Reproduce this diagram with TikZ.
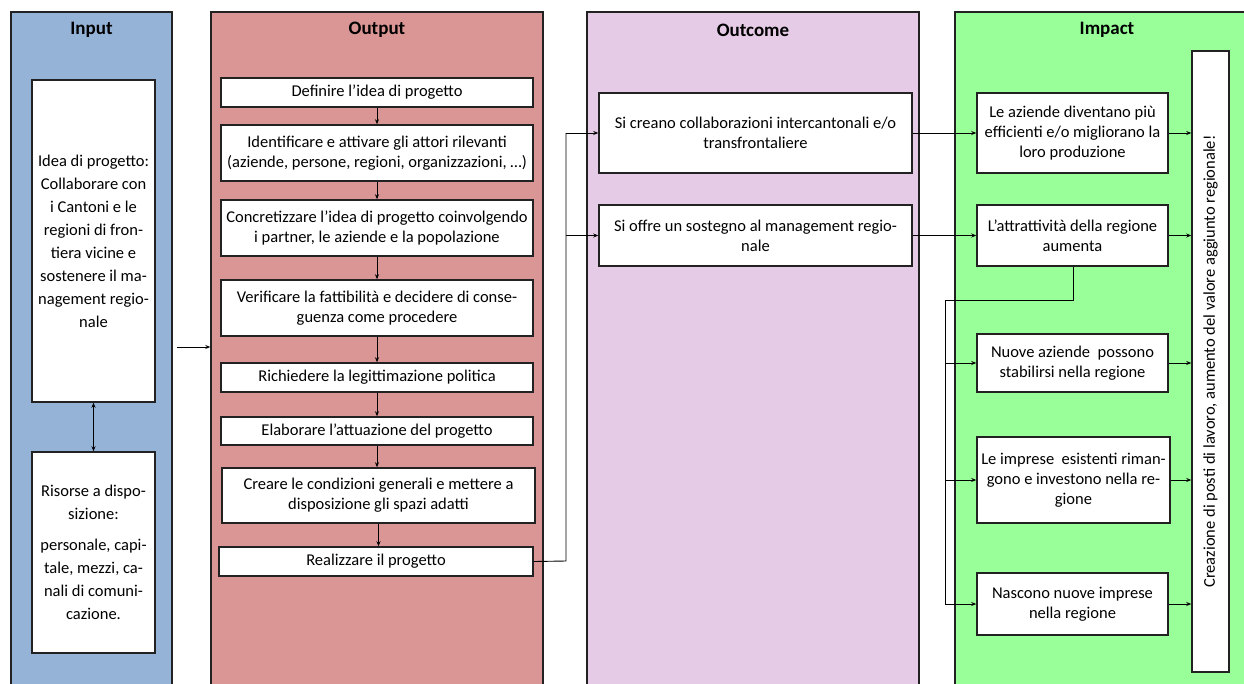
\documentclass[tikz,border=0pt]{standalone}
\usepackage{fontspec}
\setmainfont{Carlito}
\usetikzlibrary{arrows.meta}

\definecolor{inblue}{HTML}{95B3D7}
\definecolor{outred}{HTML}{D99694}
\definecolor{outlav}{HTML}{E6CBE6}
\definecolor{impgreen}{HTML}{99FF99}
\definecolor{edge}{HTML}{222222}

\tikzset{
  column/.style={draw=edge, line width=1.4pt, inner sep=0pt},
  coltitle/.style={font=\fontsize{19}{22}\selectfont\bfseries},
  box/.style={draw=edge, fill=white, line width=1.5pt, inner sep=0pt,
    align=center, font=\fontsize{16.5}{20}\selectfont},
  inbox/.style={box, font=\fontsize{16.5}{23}\selectfont},
  arr/.style={line width=0.9pt, -{Stealth[length=5pt,width=4pt]}},
  dblarr/.style={line width=0.9pt, {Stealth[length=5pt,width=4pt]}-{Stealth[length=5pt,width=4pt]}},
  wire/.style={line width=0.9pt}
}

\begin{document}
\begin{tikzpicture}[x=1pt, y=-1pt]
\useasboundingbox (0,0) rectangle (1244,683);

% ---- columns ----
\node[column, fill=inblue,  minimum width=161pt, minimum height=700pt] (incol)  at (91.5,362) {};
\node[column, fill=outred,  minimum width=332pt, minimum height=700pt] (outcol) at (377,362) {};
\node[column, fill=outlav,  minimum width=332pt, minimum height=700pt] (occol)  at (753,362) {};
\node[column, fill=impgreen,minimum width=305pt, minimum height=700pt] (impcol) at (1107.5,362) {};

\node[coltitle] (tin)  at (91.5,30)  {Input};
\node[coltitle] (tout) at (377,30)   {Output};
\node[coltitle] (toc)  at (753,30)   {Outcome};
\node[coltitle] (timp) at (1107,30)  {Impact};

% ---- Input ----
\node[inbox, minimum width=123pt, minimum height=322pt] (idea) at (93.5,241)
  {Idea di progetto:\\Collaborare con\\i Cantoni e le\\regioni di fron-\\tiera vicine e\\sostenere il ma-\\nagement regio-\\nale};
\node[inbox, minimum width=123pt, minimum height=201pt] (ris) at (93.5,552.5)
  {Risorse a dispo-\\sizione:\\[8pt]personale, capi-\\tale, mezzi, ca-\\nali di comuni-\\cazione.};
\draw[dblarr] (idea.south) -- (ris.north);

\coordinate (instart) at (177,347);
\draw[arr] (instart) -- (instart -| outcol.west);

% ---- Output ----
\node[box, minimum width=312pt, minimum height=29pt] (o1) at (377,92.5)
  {Definire l’idea di progetto};
\node[box, minimum width=312pt, minimum height=56pt] (o2) at (377,153)
  {Identificare e attivare gli attori rilevanti\\(aziende, persone, regioni, organizzazioni, …)};
\node[box, minimum width=312pt, minimum height=56pt] (o3) at (377,228)
  {Concretizzare l’idea di progetto coinvolgendo\\i partner, le aziende e la popolazione};
\node[box, minimum width=312pt, minimum height=56pt] (o4) at (377,308)
  {Verificare la fattibilità e decidere di conse-\\guenza come procedere};
\node[box, minimum width=312pt, minimum height=29pt] (o5) at (377,377.5)
  {Richiedere la legittimazione politica};
\node[box, minimum width=312pt, minimum height=28pt] (o6) at (377,431)
  {Elaborare l’attuazione del progetto};
\node[box, minimum width=313pt, minimum height=55pt] (o7) at (378.5,495.5)
  {Creare le condizioni generali e mettere a\\disposizione gli spazi adatti};
\node[box, minimum width=314pt, minimum height=29pt] (o8) at (376,561.5)
  {Realizzare il progetto};

\foreach \a/\b in {o1/o2,o2/o3,o3/o4,o4/o5,o5/o6,o6/o7,o7/o8}
  \draw[arr] (\a.south) -- (\a.south |- \b.north);

% ---- Outcome ----
\node[box, minimum width=313pt, minimum height=80pt] (c1) at (755.5,133)
  {Si creano collaborazioni intercantonali e/o\\transfrontaliere};
\node[box, minimum width=313pt, minimum height=61pt] (c2) at (755.5,235.5)
  {Si offre un sostegno al management regio-\\nale};

\coordinate (split) at (566,561);
\draw[wire] (o8.east) -- (split) -- (split |- c1.west);
\draw[arr] (split |- c1.west) -- (c1.west);
\draw[arr] (split |- c2.west) -- (c2.west);

% ---- Impact ----
\node[box, minimum width=37pt, minimum height=621pt] (vb) at (1210.5,361.5)
  {\rotatebox{90}{Creazione di posti di lavoro, aumento del valore aggiunto regionale!}};

\node[box, minimum width=191pt, minimum height=80pt] (i1) at (1072.5,133)
  {Le aziende diventano più\\efficienti e/o migliorano la\\loro produzione};
\node[box, minimum width=191pt, minimum height=61pt] (i2) at (1072.5,235.5)
  {L’attrattività della regione\\aumenta};
\node[box, minimum width=191pt, minimum height=58pt] (i3) at (1072.5,363)
  {Nuove aziende\ \ possono\\stabilirsi nella regione};
\node[box, minimum width=193pt, minimum height=86pt] (i4) at (1073.5,480)
  {Le imprese\ \ esistenti riman-\\gono e investono nella re-\\gione};
\node[box, minimum width=191pt, minimum height=62pt] (i5) at (1072.5,604)
  {Nascono nuove imprese\\nella regione};

\draw[arr] (c1.east) -- (i1.west);
\draw[arr] (c2.east) -- (i2.west);

\coordinate (drop) at (1073,300);
\coordinate (bus) at (945,300);
\draw[wire] (i2.south -| drop) -- (drop) -- (bus) -- (bus |- i5.west);
\foreach \t in {i3,i4,i5}
  \draw[arr] (bus |- \t.west) -- (\t.west);

\foreach \t in {i1,i2,i3,i4,i5}
  \draw[arr] (\t.east) -- (vb.west |- \t.east);
\end{tikzpicture}
\end{document}
